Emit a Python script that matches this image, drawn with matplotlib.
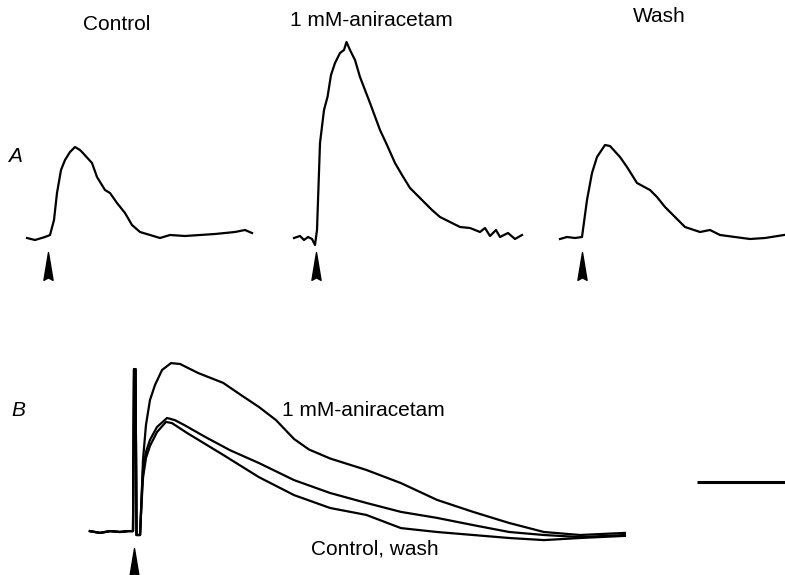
import matplotlib
matplotlib.use("Agg")
import matplotlib.pyplot as plt
from matplotlib.path import Path

plt.rcParams['font.family'] = ['Liberation Sans', 'DejaVu Sans']

# ---- data (time in ms from stimulus, amplitude in mV) ----
# panel A, single records
ctl_t = [-11.5, -7.5, -2.5, 0, 2, 3.5, 5.5, 7.5, 10, 12.5, 15, 16, 21, 23.5, 27.5, 30,
         33.5, 37.5, 41, 45, 50, 55, 60, 67.5, 75, 82.5, 92.5, 97.5, 101]
ctl_v = [0, -0.1, 0.05, 0.15, 0.9, 2.25, 3.4, 3.9, 4.3, 4.55, 4.4, 4.3, 3.75, 3.05, 2.4, 2.25,
         1.75, 1.25, 0.65, 0.3, 0.15, 0, 0.15, 0.1, 0.15, 0.2, 0.3, 0.4, 0.25]

ani_t = [-11, -8, -6, -4, -2, -0.5, 0.5, 2, 4, 5.75, 7.5, 9.5, 12, 14, 15.25, 17, 19.5, 22,
         27, 32, 35.5, 39.5, 43, 47, 54.5, 58, 62, 67, 72, 77, 82, 84.5, 87, 90, 92, 96,
         99.5, 103]
ani_v = [0, 0.1, -0.1, 0.05, -0.05, -0.35, 0.4, 4.75, 6.4, 7.05, 8.15, 8.75, 9.25, 9.4, 9.8,
         9.4, 8.9, 8.05, 6.75, 5.4, 4.65, 3.75, 3.15, 2.5, 1.75, 1.4, 1.05, 0.8, 0.55, 0.5,
         0.3, 0.5, 0.1, 0.4, 0.05, 0.25, -0.05, 0.15]

wash_t = [-11.5, -8, -4, -0.5, 2, 4.5, 7, 11, 13.5, 18.5, 22, 27, 33.5, 37, 41, 46, 51,
          58.5, 63.5, 68.5, 76, 83.5, 91, 100.5]
wash_v = [-0.05, 0.05, 0, 0.05, 1.9, 3.25, 4.05, 4.65, 4.6, 4.05, 3.55, 2.75, 2.4, 2.05,
          1.55, 1.05, 0.55, 0.3, 0.4, 0.15, 0.05, -0.05, 0, 0.15]

a_titles = ["Control", "1 mM-aniracetam", "Wash"]
a_stim = [-1, 0, -0.5]

# panel B, superimposed records (stimulus artefact included)
b_pre_t = [-9.8, -7.5, -5.2, -3, -1.1, 0, 0.23, 0.57, 0.8, 1.6]
b_pre_v = [0.03, -0.03, 0.03, 0, 0.03, 0.03, 5.43, 5.43, -0.1, -0.1]

b_ani_t = b_pre_t + [1.93, 2.27, 2.95, 3.86, 5, 6.6, 8.64, 10.7, 14.8, 20.5, 24.5, 28.6,
                     32.5, 36.6, 40, 44.8, 53, 60.9, 69.1, 77.3, 85.5, 93.4, 101.6, 111.8]
b_ani_v = b_pre_v + [1.07, 2.4, 3.57, 4.4, 4.9, 5.4, 5.63, 5.6, 5.3, 4.97, 4.57, 4.17,
                     3.73, 3.1, 2.75, 2.45, 2.07, 1.63, 1.07, 0.67, 0.3, 0, -0.1, -0.03]

b_ctl_t = b_pre_t + [1.93, 2.27, 2.95, 3.86, 5.45, 7.73, 9.5, 11.6, 16.4, 22, 28.6, 36.6,
                     44.8, 53, 60.9, 69.1, 77.3, 85.5, 93.4, 101.6, 111.8]
b_ctl_v = b_pre_v + [1.07, 2.07, 2.67, 3.07, 3.5, 3.8, 3.73, 3.57, 3.17, 2.73, 2.3, 1.73,
                     1.3, 0.97, 0.67, 0.47, 0.23, 0, -0.1, -0.17, -0.1]

b_wash_t = b_pre_t + [1.93, 2.27, 2.95, 3.86, 5.45, 7.5, 8.86, 12.3, 20.5, 28.6, 36.6,
                      44.8, 53, 60.9, 69.1, 77.3, 85.5, 93.4, 101.6, 111.8]
b_wash_v = b_pre_v + [0.9, 1.8, 2.47, 2.87, 3.33, 3.67, 3.63, 3.3, 2.57, 1.83, 1.23,
                      0.8, 0.57, 0.13, 0, -0.1, -0.2, -0.27, -0.2, -0.13]

b_stim = 0.23
scale_bar_ms = 20

# ---- layout ----
W, H = 785, 575
fig = plt.figure(figsize=(W / 100, H / 100), dpi=100)

# notched arrowhead used to mark the stimulus
arrow = Path([(0, 1), (0.33, -1), (0, -0.82), (-0.33, -1), (0, 1)],
             [Path.MOVETO, Path.LINETO, Path.LINETO, Path.LINETO, Path.CLOSEPOLY])


def panel_axes(x0, y0, sx, sy, xlim, ylim):
    # place an invisible axes so that (0, 0) in data lands on pixel (x0, y0)
    left = x0 + xlim[0] * sx
    right = x0 + xlim[1] * sx
    top = y0 - ylim[1] * sy
    bottom = y0 - ylim[0] * sy
    ax = fig.add_axes([left / W, 1 - bottom / H, (right - left) / W, (bottom - top) / H])
    ax.set_xlim(xlim)
    ax.set_ylim(ylim)
    ax.axis('off')
    return ax


lw = 1.6
a_onsets = [50, 316, 583]
a_traces = [(ctl_t, ctl_v), (ani_t, ani_v), (wash_t, wash_v)]
for onset, (t, v), stim in zip(a_onsets, a_traces, a_stim):
    ax = panel_axes(onset, 238, 2.0, 20.0, (-20, 110), (-3.1, 11.9))
    ax.plot(t, v, color='black', lw=lw, clip_on=False)
    ax.plot([stim], [-1.4], marker=arrow, markersize=20, color='black',
            linestyle='none', clip_on=False)

axb = panel_axes(133, 532, 4.4, 30.0, (-12, 148.5), (-1.4, 6.4))
for t, v in [(b_ctl_t, b_ctl_v), (b_wash_t, b_wash_v), (b_ani_t, b_ani_v)]:
    axb.plot(t, v, color='black', lw=lw, clip_on=False)
axb.plot([b_stim], [-1.0], marker=arrow, markersize=20, color='black',
         linestyle='none', clip_on=False)
# time calibration bar
axb.plot([148.2 - scale_bar_ms, 148.2], [1.67, 1.67], color='black', lw=2.2,
         solid_capstyle='butt', clip_on=False)

# ---- text ----
fs = 15
for cx, cy, s in zip([117, 371, 659], [24, 21, 17], a_titles):
    fig.text(cx / W, 1 - cy / H, s, ha='center', va='center', fontsize=fs)

fig.text(15 / W, 1 - 157 / H, "A", ha='center', va='center', fontsize=fs, style='italic')
fig.text(18 / W, 1 - 410 / H, "B", ha='center', va='center', fontsize=fs, style='italic')
fig.text(363 / W, 1 - 411 / H, "1 mM-aniracetam", ha='center', va='center', fontsize=fs)
fig.text(375 / W, 1 - 549 / H, "Control, wash", ha='center', va='center', fontsize=fs)

fig.savefig("out.png", dpi=100, facecolor='white')
